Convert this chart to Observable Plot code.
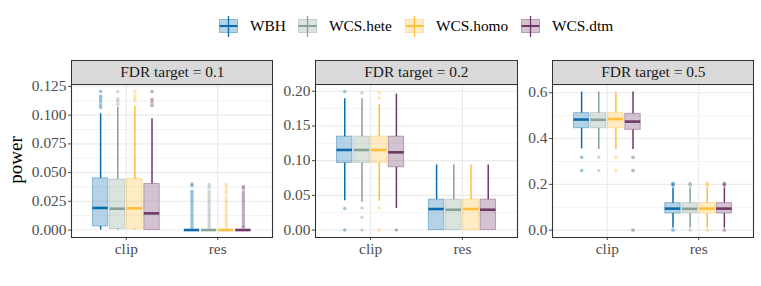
<!DOCTYPE html>
<html><head><meta charset="utf-8">
<script src="https://cdn.jsdelivr.net/npm/d3@7"></script>
<script src="https://cdn.jsdelivr.net/npm/@observablehq/plot@0.6"></script>
<style>
body{margin:0;background:#fff;}
#chart{position:relative;width:761px;height:286px;font-family:"Liberation Serif","Times New Roman",serif;overflow:hidden;background:#fff;}
.strip{position:absolute;background:#D9D9D9;border:1px solid #333;box-sizing:border-box;display:flex;align-items:center;justify-content:center;font-size:14px;color:#1A1A1A;}
.sx{display:inline-block;transform:scaleX(1.1);}
.panel{position:absolute;}
#legend{position:absolute;left:219px;top:16px;height:21px;display:flex;align-items:center;font-size:14px;color:#000;}
#ylab{position:absolute;font-size:19px;color:#000;transform:translate(-50%,-50%) rotate(-90deg);white-space:nowrap;}
</style></head><body><div id="chart"></div>
<script>
// ---------- data ----------
const series = ["WBH", "WCS.hete", "WCS.homo", "WCS.dtm"];
const seriesColors = ["#0A6CAD", "#88A195", "#FFBE3C", "#6E3868"];
const categories = ["clip", "res"];
const panelTitles = ["FDR target = 0.1", "FDR target = 0.2", "FDR target = 0.5"];
const yTitle = "power";

// boxes: [lower whisker, q1, median, q3, upper whisker], one per series
const box01_clip = [[0, 0.0032, 0.0192, 0.045, 0.1012], [0, 0.0009, 0.0186, 0.0439, 0.107], [0, 0.0009, 0.0189, 0.0445, 0.1078], [0, 0, 0.0145, 0.0401, 0.0968]];
const box01_res = [[0, 0, 0, 0, 0], [0, 0, 0, 0, 0], [0, 0, 0, 0, 0], [0, 0, 0, 0, 0]];
const out01_clip = [[0.1206, 0.1165, 0.1142, 0.1119, 0.109, 0.1067], [0.1206, 0.1142, 0.1119, 0.1093], [0.1206, 0.1171, 0.1148, 0.1125], [0.1206, 0.1136, 0.1113, 0.1084]];
const out01_res = [
  [0.0401, 0.0385, 0.0337, 0.0313, 0.0289, 0.0265, 0.0241, 0.0217, 0.0192, 0.0168, 0.0144, 0.012, 0.0096, 0.0072, 0.0048, 0.0024],
  [0.0395, 0.0371, 0.0335, 0.0311, 0.0287, 0.0263, 0.0239, 0.0215, 0.0191, 0.0167, 0.0143, 0.0119, 0.0095, 0.0071, 0.0047, 0.0024],
  [0.0395, 0.0375, 0.0347, 0.0323, 0.0288, 0.0264, 0.024, 0.0216, 0.0192, 0.0168, 0.0144, 0.012, 0.0096, 0.0072, 0.0048, 0.0024],
  [0.0378, 0.0362, 0.033, 0.0306, 0.0282, 0.0258, 0.0234, 0.021, 0.0186, 0.0162, 0.0138, 0.0114, 0.009, 0.0066, 0.0042, 0.0024]
];
const box02_clip = [[0.0423, 0.0966, 0.1154, 0.1346, 0.189], [0.040, 0.0966, 0.1154, 0.1346, 0.189], [0.042, 0.0966, 0.1154, 0.1346, 0.180], [0.031, 0.0904, 0.112, 0.1346, 0.196]];
const box02_res = [[0, 0, 0.0303, 0.0438, 0.0938], [0, 0, 0.0293, 0.0438, 0.0938], [0, 0, 0.0303, 0.0438, 0.0938], [0, 0, 0.0293, 0.0438, 0.0938]];
const out02_clip = [[0.1995, 0.031, 0], [0.1976, 0.0317, 0.0183, 0], [0.1976, 0.19, 0.0317, 0], [0]];
const out02_res = [[], [], [], []];
const box05_clip = [[0.355, 0.445, 0.483, 0.511, 0.603], [0.352, 0.445, 0.482, 0.511, 0.603], [0.352, 0.445, 0.485, 0.511, 0.603], [0.352, 0.438, 0.474, 0.508, 0.603]];
const box05_res = [[0.009, 0.0727, 0.094, 0.118, 0.184], [0.009, 0.0727, 0.093, 0.118, 0.184], [0.009, 0.0727, 0.094, 0.118, 0.184], [0.009, 0.0727, 0.094, 0.118, 0.184]];
const out05_clip = [[0.318, 0.26], [0.318, 0.26], [0.318, 0.26], [0.318, 0.26, 0]];
const out05_res = [[0.205, 0.2, 0.195, 0], [0.205, 0.2, 0.195, 0], [0.205, 0.2, 0.195, 0], [0.205, 0.2, 0.195, 0]];

const ticks01 = [0, 0.025, 0.05, 0.075, 0.1, 0.125];
const tickLabels01 = ["0.000", "0.025", "0.050", "0.075", "0.100", "0.125"];
const ticks02 = [0, 0.05, 0.1, 0.15, 0.2];
const tickLabels02 = ["0.00", "0.05", "0.10", "0.15", "0.20"];
const ticks05 = [0, 0.2, 0.4, 0.6];
const tickLabels05 = ["0.0", "0.2", "0.4", "0.6"];

// ---------- layout ----------
const SX = 1.1;            // horizontal text stretch of the original
const DODGE = 0.1875;      // per-series slot (0.75 / 4)
const HALF = DODGE * 0.9 / 2;
const TOP = 83, PLOT_H = 153, MB = 49;
const panelsLayout = [
  {left: 0, width: 276, ml: 71, mr: 4, domain: [-0.0065, 0.1267], ticks: ticks01, labels: tickLabels01, boxes: [box01_clip, box01_res], outs: [out01_clip, out01_res]},
  {left: 276, width: 245, ml: 39, mr: 4, domain: [-0.0107, 0.2097], ticks: ticks02, labels: tickLabels02, boxes: [box02_clip, box02_res], outs: [out02_clip, out02_res]},
  {left: 521, width: 240, ml: 31, mr: 8, domain: [-0.032, 0.636], ticks: ticks05, labels: tickLabels05, boxes: [box05_clip, box05_res], outs: [out05_clip, out05_res]}
];

const chart = document.getElementById("chart");

function stretchText(svg) {
  svg.querySelectorAll("text").forEach(t => {
    const tr = t.getAttribute("transform") || "";
    const x = t.getAttribute("x");
    if (x != null && !isNaN(+x) && +x !== 0) t.setAttribute("x", +x / SX);
    t.setAttribute("transform", (tr ? tr + " " : "") + `scale(${SX},1)`);
  });
}

panelsLayout.forEach((p, pi) => {
  const boxes = [], outs = [];
  categories.forEach((c, ci) => {
    p.boxes[ci].forEach((b, si) => {
      boxes.push({cat: c, s: series[si], xc: ci + 1 + (si - 1.5) * DODGE, lo: b[0], q1: b[1], med: b[2], q3: b[3], hi: b[4]});
    });
    p.outs[ci].forEach((arr, si) => arr.forEach(v => outs.push({cat: c, s: series[si], xc: ci + 1 + (si - 1.5) * DODGE, v})));
  });
  const minors = p.ticks.slice(1).map((t, i) => (t + p.ticks[i]) / 2);
  const svg = Plot.plot({
    width: p.width,
    height: 1 + PLOT_H + MB,
    marginLeft: p.ml, marginRight: p.mr, marginTop: 1, marginBottom: MB,
    style: {fontFamily: '"Liberation Serif","Times New Roman",serif', fontSize: "14px", color: "#4D4D4D", background: "transparent", overflow: "visible"},
    x: {domain: [0.4, 2.6], ticks: [1, 2], tickFormat: d => categories[Math.round(d) - 1], tickSize: 3, tickPadding: 4, label: null},
    y: {domain: p.domain, ticks: p.ticks, tickFormat: d => p.labels[p.ticks.indexOf(d)], tickSize: 3, tickPadding: 2, label: null},
    color: {domain: series, range: seriesColors},
    marks: [
      Plot.ruleY(minors, {stroke: "#EBEBEB", strokeWidth: 0.6}),
      Plot.ruleY(p.ticks, {stroke: "#EBEBEB", strokeWidth: 1.1}),
      Plot.ruleX([1, 2], {stroke: "#EBEBEB", strokeWidth: 1.1}),
      Plot.ruleX(boxes, {x: "xc", y1: "lo", y2: "q1", stroke: "s", strokeWidth: 1.5}),
      Plot.ruleX(boxes, {x: "xc", y1: "q3", y2: "hi", stroke: "s", strokeWidth: 1.5}),
      Plot.rect(boxes, {x1: d => d.xc - HALF, x2: d => d.xc + HALF, y1: "q1", y2: "q3", fill: "s", fillOpacity: 0.3, stroke: "s", strokeOpacity: 0.4, strokeWidth: 1}),
      Plot.ruleY(boxes, {y: "med", x1: d => d.xc - HALF, x2: d => d.xc + HALF, stroke: "s", strokeWidth: 2.6}),
      Plot.dot(outs, {x: "xc", y: "v", r: 1.8, fill: "s", fillOpacity: 0.4, stroke: null}),
      Plot.frame({stroke: "#333333", strokeWidth: 1.1})
    ]
  });
  stretchText(svg);
  const wrap = document.createElement("div");
  wrap.className = "panel";
  wrap.style.left = p.left + "px";
  wrap.style.top = TOP + "px";
  wrap.appendChild(svg);
  chart.appendChild(wrap);

  const strip = document.createElement("div");
  strip.className = "strip";
  strip.style.left = (p.left + p.ml) + "px";
  strip.style.top = "60px";
  strip.style.width = (p.width - p.ml - p.mr + 1) + "px";
  strip.style.height = "25px";
  strip.innerHTML = `<span class="sx">${panelTitles[pi]}</span>`;
  chart.appendChild(strip);
});

// y title
const yl = document.createElement("div");
yl.id = "ylab";
yl.style.left = "16px";
yl.style.top = "160px";
yl.textContent = yTitle;
chart.appendChild(yl);

// legend
const legend = document.createElement("div");
legend.id = "legend";
chart.appendChild(legend);
series.forEach((s, i) => {
  const c = seriesColors[i];
  const key = document.createElementNS("http://www.w3.org/2000/svg", "svg");
  key.setAttribute("width", 19); key.setAttribute("height", 21);
  key.innerHTML = `<line x1="9.5" x2="9.5" y1="0" y2="21" stroke="${c}" stroke-width="1.3"/>
    <rect x="0.5" y="3.5" width="18" height="13" fill="${c}" fill-opacity="0.3" stroke="${c}" stroke-opacity="0.4"/>
    <line x1="0.5" x2="18.5" y1="10" y2="10" stroke="${c}" stroke-width="2"/>`;
  legend.appendChild(key);
  const outer = document.createElement("span");
  outer.style.display = "inline-block";
  outer.style.marginLeft = "12px";
  outer.style.marginRight = i < series.length - 1 ? "12.5px" : "0";
  const inner = document.createElement("span");
  inner.style.display = "inline-block";
  inner.style.transform = `scaleX(${SX})`;
  inner.style.transformOrigin = "left center";
  inner.style.whiteSpace = "nowrap";
  inner.textContent = s;
  outer.appendChild(inner);
  legend.appendChild(outer);
  outer.style.width = inner.getBoundingClientRect().width + "px";
});
</script></body></html>
